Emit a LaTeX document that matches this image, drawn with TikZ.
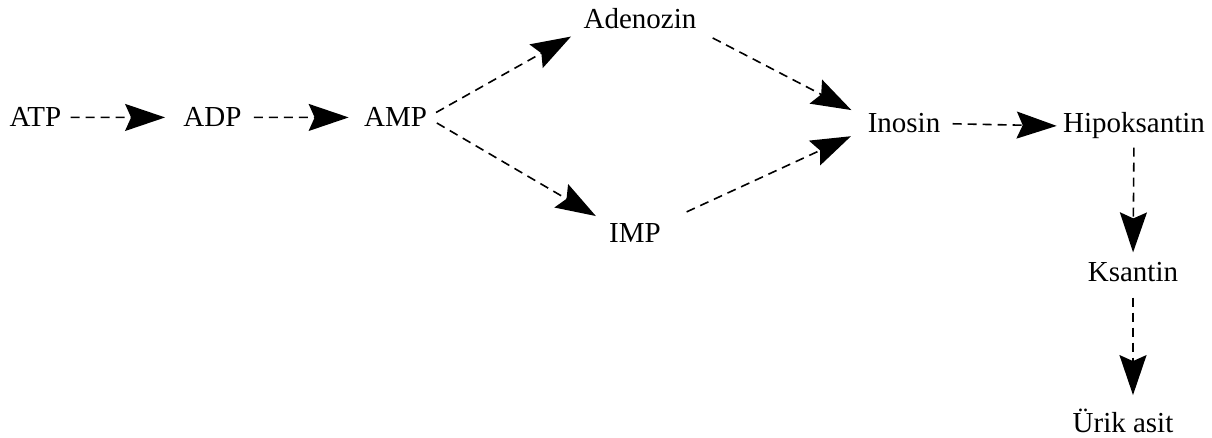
\documentclass[tikz,border=0pt]{standalone}
\usepackage{fontspec}
\setmainfont{Liberation Serif}
\usetikzlibrary{arrows.meta}

\begin{document}
\begin{tikzpicture}[x=0.5pt,y=-0.5pt,
    mol/.style={inner sep=0pt,anchor=base,font=\fontsize{14.5pt}{17pt}\selectfont},
    flow/.style={dash pattern=on 4.5pt off 3pt,line width=0.8pt,
      -{Stealth[length=20pt,width=13.5pt,inset=3pt]},shorten <=6pt,shorten >=7pt}]
    \useasboundingbox (0,0) rectangle (1212,438);
    % molecules
    \node[mol] (ATP)  at (35.5,127) {ATP};
    \node[mol] (ADP)  at (212.5,127) {ADP};
    \node[mol] (AMP)  at (395.5,127) {AMP};
    \node[mol] (Ade)  at (640,29)   {Adenozin};
    \node[mol] (IMP)  at (635,243)  {IMP};
    \node[mol] (Ino)  at (904,133)  {Inosin};
    \node[mol] (Hip)  at (1134,133) {Hipoksantin};
    \node[mol] (Ks)   at (1133,282) {Ksantin};
    \node[mol] (Urik) at (1123,433) {Ürik asit};

    % pathway
    \draw[flow,shorten <=4.5pt,shorten >=9pt] (ATP.east) -- (ADP.west);
    \draw[flow,shorten >=7.5pt] (ADP.east) -- (AMP.west);
    \draw[flow,shorten <=5pt] (AMP.east) -- (Ade.south west);
    \draw[flow,shorten <=5.5pt,shorten >=7.5pt] (AMP.east) -- (IMP.north west);
    \draw[flow,shorten <=9pt,shorten >=9pt] (Ade.south east) -- (Ino.172);
    \draw[flow,shorten <=14pt,shorten >=9pt] (IMP.north east) -- (Ino.188);
    \draw[flow,shorten >=3pt] (Ino.east) -- (Hip.west);
    \draw[flow,shorten <=4pt,shorten >=5pt] (Hip.south) -- (Ks.north);
    \draw[flow,shorten <=7.5pt] (Ks.south) -- (Ks.south |- Urik.north);
\end{tikzpicture}
\end{document}
